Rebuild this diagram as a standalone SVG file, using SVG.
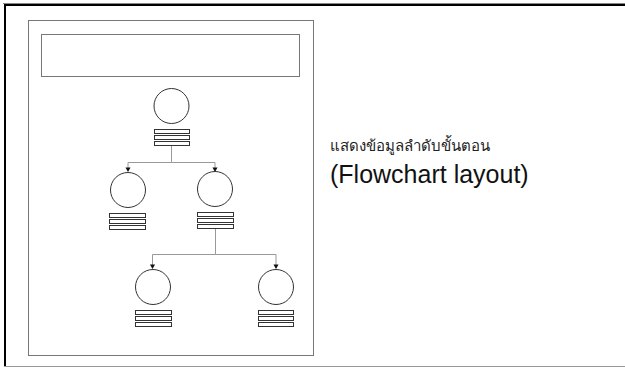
<svg xmlns="http://www.w3.org/2000/svg" width="625" height="367" viewBox="0 0 625 367">
<defs>
<style>
.panel{fill:#fff;stroke:#777;stroke-width:1}
.node{fill:#fff;stroke:#333;stroke-width:1}
.bar{fill:#fff;stroke:#333;stroke-width:1}
.conn{fill:none;stroke:#999;stroke-width:1}
.arrow{fill:#111}
.thai{font-family:"Noto Sans","DejaVu Sans",sans-serif;font-size:15px;fill:#222}
.eng{font-family:"Liberation Sans",Arial,sans-serif;font-size:25px;fill:#111}
</style>
</defs>
<rect width="625" height="367" fill="#fff"/>
<g id="frame">
<line x1="3" y1="3.5" x2="625" y2="3.5" stroke="#888" stroke-width="1"/>
<line x1="4" y1="5" x2="625" y2="5" stroke="#000" stroke-width="2"/>
<line x1="5" y1="4" x2="5" y2="366" stroke="#000" stroke-width="2"/>
<line x1="4" y1="366.5" x2="625" y2="366.5" stroke="#999" stroke-width="1"/>
</g>
<g id="panel">
<rect class="panel" x="28.5" y="20.5" width="285" height="335"/>
</g>
<g id="title-box">
<rect class="panel" x="41.5" y="34.5" width="258" height="42"/>
</g>
<g id="connectors">
<path class="conn" d="M171.5,146 V162.5 H128 V171"/>
<path class="conn" d="M171.5,162.5 H215 V171"/>
<path class="conn" d="M215.5,229 V254.5 H152.5 V268"/>
<path class="conn" d="M215.5,254.5 H276 V268"/>
<path class="arrow" d="M125.5,167.5 L130.5,167.5 L128,172 Z"/>
<path class="arrow" d="M212.5,167.5 L217.5,167.5 L215,172 Z"/>
<path class="arrow" d="M150,264.5 L155,264.5 L152.5,269 Z"/>
<path class="arrow" d="M273.5,264.5 L278.5,264.5 L276,269 Z"/>
</g>
<g id="node-top">
<circle class="node" cx="171.5" cy="106" r="17.5"/>
<rect class="bar" x="154.5" y="129.5" width="35" height="4"/>
<rect class="bar" x="154.5" y="135.5" width="35" height="4"/>
<rect class="bar" x="154.5" y="141.5" width="35" height="4"/>
</g>
<g id="node-l2-left">
<circle class="node" cx="128" cy="190" r="17.5"/>
<rect class="bar" x="109.5" y="213.5" width="36" height="4"/>
<rect class="bar" x="109.5" y="219.5" width="36" height="4"/>
<rect class="bar" x="109.5" y="225.5" width="36" height="4"/>
</g>
<g id="node-l2-right">
<circle class="node" cx="215" cy="189" r="17.5"/>
<rect class="bar" x="197.5" y="212.5" width="36" height="4"/>
<rect class="bar" x="197.5" y="218.5" width="36" height="4"/>
<rect class="bar" x="197.5" y="224.5" width="36" height="4"/>
</g>
<g id="node-l3-left">
<circle class="node" cx="153" cy="287" r="17.5"/>
<rect class="bar" x="135.5" y="310.5" width="36" height="4"/>
<rect class="bar" x="135.5" y="316.5" width="36" height="4"/>
<rect class="bar" x="135.5" y="322.5" width="36" height="4"/>
</g>
<g id="node-l3-right">
<circle class="node" cx="276" cy="287" r="17.5"/>
<rect class="bar" x="258.5" y="310.5" width="35" height="4"/>
<rect class="bar" x="258.5" y="316.5" width="35" height="4"/>
<rect class="bar" x="258.5" y="322.5" width="35" height="4"/>
</g>
<g id="caption">
<text class="thai" x="330" y="151">แสดงข้อมูลลำดับขั้นตอน</text>
<text class="eng" x="330" y="183">(Flowchart layout)</text>
</g>
</svg>
